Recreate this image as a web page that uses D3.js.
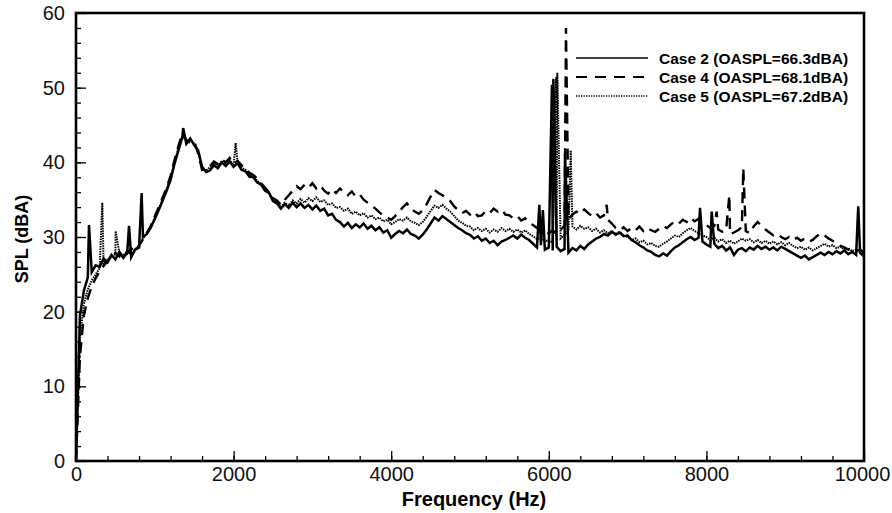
<!DOCTYPE html>
<html>
<head>
<meta charset="utf-8">
<script src="https://cdn.jsdelivr.net/npm/d3@7"></script>
<style>
  body { margin: 0; background: #fff; }
  svg { font-family: "Liberation Sans", Arial, sans-serif; }
</style>
</head>
<body>
<svg id="chart" width="892" height="513"></svg>
<script>
// SPL spectra, sampled every 50 Hz from 0 to 10000 Hz
const freqStep = 50;

const case2 = [
  0, 19.5, 22.8, 24.6, 25.3, 26.2, 26.0, 27.1, 26.6, 27.6,
  27.0, 28.0, 27.2, 27.9, 27.3, 28.3, 28.6, 30.0, 30.4, 31.3,
  32.4, 33.6, 34.9, 36.2, 37.6, 39.8, 41.6, 43.4, 42.5, 43.2,
  42.3, 41.6, 39.4, 38.7, 38.9, 39.6, 39.2, 40.0, 39.5, 40.1,
  39.4, 39.9, 39.0, 38.8, 38.1, 38.0, 37.3, 37.0, 36.2, 35.9,
  34.8, 34.5, 33.8, 34.4, 33.9, 34.6, 34.0, 34.5, 33.9, 34.3,
  33.7, 34.2, 33.5, 33.8, 32.9, 33.1, 32.3, 32.0, 31.4, 31.9,
  31.2, 31.7, 31.3, 31.8, 31.1, 31.5, 30.9, 31.3, 30.6, 30.9,
  29.9, 30.4, 30.8, 30.5, 31.0, 30.4, 30.2, 29.8, 30.3, 31.0,
  31.8, 32.6, 32.2, 32.8, 32.4, 32.0, 31.6, 31.2, 30.9, 30.5,
  30.3, 29.8, 30.1, 29.5, 29.8, 29.2, 29.5, 28.9, 29.4, 29.6,
  29.9, 30.2, 29.8, 30.3, 29.9, 29.6, 29.1, 28.6, 28.9, 28.3,
  28.6, 28.2, 28.7, 28.1, 28.4, 27.9, 28.5, 28.2, 28.8, 28.4,
  29.0, 29.4, 29.8, 30.0, 30.4, 30.2, 30.7, 30.3, 30.6, 30.1,
  30.2, 29.6, 29.3, 28.9, 28.6, 28.2, 28.0, 27.6, 27.4, 27.8,
  27.5, 28.1, 28.6, 28.9, 29.3, 29.7, 30.0, 29.6, 29.9, 29.4,
  29.0, 28.7, 29.1, 28.5, 28.8, 28.2, 28.6, 27.6, 28.3, 28.5,
  28.1, 28.6, 28.3, 28.8, 28.4, 28.7, 28.3, 28.6, 28.2, 28.7,
  28.4, 28.1, 27.8, 27.5, 27.2, 27.5, 27.0, 27.3, 27.6, 27.9,
  27.6, 28.0, 27.7, 28.1, 27.8, 28.2, 27.7, 28.0, 27.6, 27.9,
  27.4
];

const case4 = [
  0, 14.0, 19.5, 21.8, 23.4, 24.5, 25.4, 26.1, 26.8, 27.2,
  27.9, 27.4, 28.3, 27.8, 28.5, 28.0, 28.9, 29.7, 30.6, 31.5,
  32.8, 34.0, 35.3, 36.6, 38.2, 40.3, 42.2, 43.9, 43.0, 42.6,
  42.8, 41.2, 39.0, 39.2, 39.5, 40.1, 39.8, 40.4, 40.0, 40.6,
  39.8, 40.2, 39.6, 39.2, 38.6, 38.3, 37.8, 37.2, 36.6, 36.0,
  35.2, 34.9, 34.3, 35.0, 35.6, 36.2, 36.8, 36.4, 37.0, 36.6,
  37.2, 36.5, 36.9, 36.2, 35.8, 36.4, 35.9, 36.5, 36.0, 35.6,
  36.1, 35.4, 35.7, 35.0, 34.6, 34.2, 33.8, 33.3, 32.9, 32.6,
  32.3, 32.8, 33.4, 34.0, 34.5, 33.8, 33.4, 33.1, 33.6, 34.4,
  35.4, 36.3, 35.9, 35.6, 35.2, 34.8, 34.1, 33.6, 33.2, 33.5,
  33.0, 33.4, 32.8, 32.9, 33.5, 33.2, 33.8, 33.4, 33.7, 33.0,
  32.9, 32.5, 32.8, 32.2, 32.5, 31.9, 31.6, 31.2, 31.0, 30.8,
  30.5, 30.9, 30.4, 31.0, 31.5, 32.4, 33.0, 33.4, 33.1, 33.7,
  33.2, 32.8, 33.2, 32.6, 32.9, 32.3, 31.8, 31.2, 30.9, 31.3,
  30.8, 31.2, 30.9, 31.4, 30.8, 31.2, 30.9, 30.7, 31.1, 31.5,
  31.2, 31.7, 32.1, 31.8, 32.3, 32.0, 32.6, 32.1, 32.4, 31.9,
  31.6, 31.2, 31.5, 31.0, 30.7, 30.9, 30.4, 30.6, 30.9, 31.3,
  30.8, 30.5, 31.4, 32.0, 31.5, 31.0, 30.6, 30.2, 30.4, 30.0,
  29.7, 30.0, 29.6, 29.9, 29.5, 29.8, 29.4, 29.6, 30.1, 30.5,
  30.2, 29.8, 29.5, 29.1, 28.8, 28.6, 28.3, 28.5, 28.1, 28.3,
  27.9
];

const case5 = [
  0, 16.5, 21.0, 23.0, 24.2, 25.0, 25.8, 26.4, 27.0, 27.3,
  27.7, 27.9, 27.5, 28.1, 27.6, 28.4, 28.7, 29.8, 30.5, 31.4,
  32.6, 33.8, 35.0, 36.4, 37.9, 40.0, 42.0, 43.6, 42.8, 43.0,
  42.5, 41.4, 39.2, 38.9, 39.3, 39.9, 39.5, 40.2, 39.7, 40.3,
  39.6, 40.0, 39.3, 39.0, 38.4, 38.1, 37.5, 37.1, 36.4, 36.0,
  35.0, 34.7, 34.0, 34.6, 34.2, 34.9, 34.5, 35.1, 34.6, 35.2,
  34.8, 35.3, 34.7, 34.9, 34.3, 34.5, 33.9, 34.0, 33.5, 33.8,
  33.1, 33.4, 32.9, 33.2, 32.6, 32.9, 32.4, 32.6, 32.1, 32.3,
  31.7, 32.0, 32.4, 32.2, 32.6, 32.1, 31.9, 31.6, 32.0, 32.7,
  33.5, 34.2, 33.9, 34.3, 33.8, 33.4, 32.8, 32.2, 31.9, 31.5,
  31.4, 30.9, 31.2, 30.8, 31.1, 30.6, 31.0, 30.7, 31.2, 30.8,
  31.1, 30.7, 31.0, 30.6, 30.9, 30.4, 30.1, 29.7, 29.9, 29.4,
  29.6, 29.2, 29.5, 29.8, 30.3, 30.9, 31.4, 31.0, 31.5, 31.1,
  31.3, 30.8, 31.1, 30.6, 30.9, 30.5, 30.8, 30.4, 30.7, 30.2,
  30.0, 29.6, 29.8, 29.3, 29.5, 29.0, 29.2, 28.8, 28.7, 29.1,
  29.4, 29.8, 30.2, 30.0, 30.5, 30.9, 31.2, 30.8, 30.5, 30.2,
  30.0, 29.6, 29.9, 29.4, 29.7, 29.2, 29.5, 29.1, 29.4, 29.8,
  29.5, 29.7, 29.3, 29.6, 29.2, 29.5, 29.1, 29.4, 29.0, 29.3,
  28.9, 29.2, 28.8, 28.5, 28.7, 28.3, 28.6, 28.2, 28.5, 28.8,
  29.1, 28.7, 28.9, 28.5, 28.7, 28.3, 28.5, 28.1, 28.3, 27.9,
  27.6
];

// narrow tonal peaks [frequency Hz, SPL dBA]
const spikes2 = [[165, 31.6], [673, 31.5], [833, 35.9], [1360, 44.6], [5880, 34.3], [5925, 33.6],
  [6040, 50.4], [6058, 51.2], [6206, 41.2], [7919, 33.9], [8067, 33.4], [9927, 34.1]];
const spikes4 = [[6218, 58.0], [6735, 34.3], [8130, 33.4], [8291, 35.6], [8468, 39.2]];
const spikes5 = [[334, 34.6], [503, 30.8], [2026, 42.6], [6092, 51.4], [6108, 52.0], [6278, 41.6]];

const legendLabels = ['Case 2 (OASPL=66.3dBA)', 'Case 4 (OASPL=68.1dBA)', 'Case 5 (OASPL=67.2dBA)'];
const xTicks = [0, 2000, 4000, 6000, 8000, 10000];
const yTicks = [0, 10, 20, 30, 40, 50, 60];

const svg = d3.select('#chart');
const plotLeft = 76, plotRight = 864, plotTop = 13, plotBottom = 461;

const x = d3.scaleLinear().domain([0, 10000]).range([plotLeft, plotRight]);
const y = d3.scaleLinear().domain([0, 60]).range([plotBottom, plotTop]);

const buildSeries = (vals, spikes) =>
  vals.map((v, i) => [i * freqStep, v]).concat(spikes).sort((a, b) => a[0] - b[0]);

// drawn bottom to top: case 5, case 4, case 2
const series = [
  { pts: buildSeries(case5, spikes5), dash: '1.5,1', width: 2.0, legendDash: '1.3,1.2', legendWidth: 1.3 },
  { pts: buildSeries(case4, spikes4), dash: '11,7', width: 2.4, legendDash: '11,8', legendWidth: 2 },
  { pts: buildSeries(case2, spikes2), dash: null, width: 2.5, legendDash: null, legendWidth: 1.6 }
];

const line = d3.line().x((d) => x(d[0])).y((d) => y(d[1]));

const plot = svg.append('g');
series.forEach((s) => {
  plot.append('path')
    .attr('d', line(s.pts))
    .attr('fill', 'none')
    .attr('stroke', '#000')
    .attr('stroke-width', s.width)
    .attr('stroke-linejoin', 'miter')
    .attr('stroke-dasharray', s.dash);
});

// axes, ticks pointing inward
const fmt = d3.format('d');
const xAxis = svg.append('g')
  .attr('transform', `translate(0,${plotBottom})`)
  .call(d3.axisBottom(x).tickValues(xTicks).tickFormat(fmt).tickSizeInner(-10).tickSizeOuter(0).tickPadding(6));
svg.append('g')
  .attr('transform', `translate(0,${plotBottom})`)
  .call(d3.axisBottom(x).tickValues(d3.range(400, 10000, 400)).tickSizeInner(-5).tickSizeOuter(0).tickFormat(''));

const yAxis = svg.append('g')
  .attr('transform', `translate(${plotLeft},0)`)
  .call(d3.axisLeft(y).tickValues(yTicks).tickFormat(fmt).tickSizeInner(-10).tickSizeOuter(0).tickPadding(11));
svg.append('g')
  .attr('transform', `translate(${plotLeft},0)`)
  .call(d3.axisLeft(y).tickValues(d3.range(2, 60, 2)).tickSizeInner(-5).tickSizeOuter(0).tickFormat(''));

svg.selectAll('.domain').remove();
svg.selectAll('.tick line').attr('stroke', '#000').attr('stroke-width', 1.3);
xAxis.selectAll('text').attr('font-size', 20).attr('fill', '#111').attr('font-family', null);
yAxis.selectAll('text').attr('font-size', 20).attr('fill', '#111').attr('font-family', null);
// last label sits against the page edge
xAxis.selectAll('text').filter((d) => d === 10000).attr('dx', -2);

// frame
svg.append('rect')
  .attr('x', plotLeft).attr('y', plotTop)
  .attr('width', plotRight - plotLeft).attr('height', plotBottom - plotTop)
  .attr('fill', 'none').attr('stroke', '#000').attr('stroke-width', 2.6);

// axis titles
svg.append('text')
  .attr('x', 474).attr('y', 506)
  .attr('text-anchor', 'middle')
  .attr('font-size', 20).attr('font-weight', 'bold')
  .text('Frequency (Hz)');

svg.append('text')
  .attr('transform', 'translate(28,239) rotate(-90)')
  .attr('text-anchor', 'middle')
  .attr('font-size', 18).attr('font-weight', 'bold')
  .text('SPL (dBA)');

// legend
const legendStyles = [series[2], series[1], series[0]];
const legend = svg.append('g');
legendLabels.forEach((label, i) => {
  const ly = 58 + i * 19;
  legend.append('line')
    .attr('x1', 576).attr('x2', 648).attr('y1', ly).attr('y2', ly)
    .attr('stroke', '#000')
    .attr('stroke-width', legendStyles[i].legendWidth)
    .attr('stroke-dasharray', legendStyles[i].legendDash);
  legend.append('text')
    .attr('x', 659).attr('y', ly + 5.5)
    .attr('font-size', 15.5).attr('font-weight', 'bold')
    .text(label);
});
</script>
</body>
</html>
